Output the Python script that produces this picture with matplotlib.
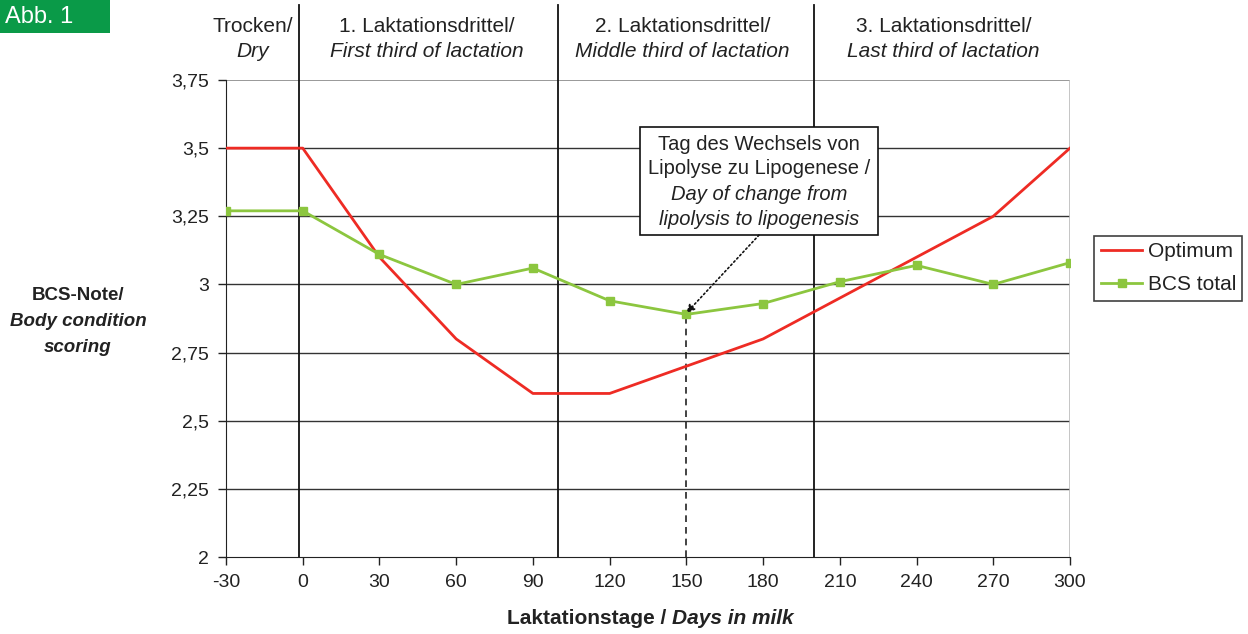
import matplotlib
matplotlib.use("Agg")
import matplotlib.pyplot as plt
import matplotlib.patches as mpatches

plt.rcParams['font.family'] = ['Liberation Sans', 'DejaVu Sans']

# data
days = [-30, 0, 30, 60, 90, 120, 150, 180, 210, 240, 270, 300]
optimum = [3.5, 3.5, 3.1, 2.8, 2.6, 2.6, 2.7, 2.8, 2.95, 3.1, 3.25, 3.5]
bcs_total = [3.27, 3.27, 3.11, 3.0, 3.06, 2.94, 2.89, 2.93, 3.01, 3.07, 3.0, 3.08]
y_ticks = [2, 2.25, 2.5, 2.75, 3, 3.25, 3.5, 3.75]
y_labels = ['2', '2,25', '2,5', '2,75', '3', '3,25', '3,5', '3,75']
phase_bounds = [-1.5, 100, 200]
phase_de = ['Trocken/', '1. Laktationsdrittel/', '2. Laktationsdrittel/', '3. Laktationsdrittel/']
phase_en = ['Dry', 'First third of lactation', 'Middle third of lactation', 'Last third of lactation']
phase_centers = [-19.5, 48.5, 148.5, 250.5]
change_day = 150
change_bcs = 2.89
note_de = ['Tag des Wechsels von', 'Lipolyse zu Lipogenese /']
note_en = ['Day of change from', 'lipolysis to lipogenesis']

red = '#ee2b24'
green = '#8cc63f'
ink = '#222222'

fig = plt.figure(figsize=(12.48, 6.34), dpi=100)
ax = fig.add_axes([226 / 1248, 1 - 557 / 634, (1070 - 226) / 1248, 477 / 634])

ax.set_xlim(-30, 300)
ax.set_ylim(2, 3.75)
ax.set_xticks(days)
ax.set_xticklabels([str(d) for d in days], fontsize=14)
ax.set_yticks(y_ticks)
ax.set_yticklabels(y_labels, fontsize=14)
ax.tick_params(axis='both', direction='out', length=6, width=1, color=ink, pad=6, labelcolor=ink)
for y in y_ticks[1:-1]:
    ax.axhline(y, color='#333333', lw=1, zorder=1)
ax.axhline(3.75, color='#888888', lw=1.2, zorder=1)
for s in ['top', 'right']:
    ax.spines[s].set_visible(False)
ax.spines['left'].set_color(ink)
ax.spines['bottom'].set_color(ink)
ax.axvline(300, color='#bbbbbb', lw=1.2, zorder=1)

# phase borders reaching up into the header
for xb in phase_bounds:
    ax.plot([xb, xb], [0, 1.157], color='#111111', lw=1.3,
            transform=ax.get_xaxis_transform(), clip_on=False, zorder=2)
for xc, de, en in zip(phase_centers, phase_de, phase_en):
    ax.text(xc, 1.113, de, transform=ax.get_xaxis_transform(), ha='center', va='center',
            fontsize=15, color=ink)
    ax.text(xc, 1.059, en, transform=ax.get_xaxis_transform(), ha='center', va='center',
            fontsize=15, style='italic', color=ink)

ax.plot(days, optimum, color=red, lw=2, label='Optimum', zorder=3)
ax.plot(days, bcs_total, color=green, lw=2, marker='s', markersize=6, label='BCS total', zorder=4)

# day of change marker
ax.plot([change_day, change_day], [2, change_bcs], color=ink, lw=1.2,
        linestyle=(0, (4, 3)), zorder=2)
ax.add_patch(mpatches.Rectangle((131.8, 3.181), 93.1, 0.397, facecolor='white',
                                edgecolor='#111111', lw=1.2, zorder=4))
for yy, line in zip([3.515, 3.424], note_de):
    ax.text(178.4, yy, line, ha='center', va='center', fontsize=14.5, color=ink, zorder=6)
for yy, line in zip([3.329, 3.238], note_en):
    ax.text(178.4, yy, line, ha='center', va='center', fontsize=14.5, style='italic',
            color=ink, zorder=6)
ax.annotate('', xy=(change_day, change_bcs + 0.005), xytext=(178.4, 3.181),
            arrowprops=dict(arrowstyle='-|>', linestyle=':', color='#111111', lw=1.2,
                            shrinkA=0, shrinkB=0, mutation_scale=12), zorder=5)

leg = ax.legend(loc='center left', bbox_to_anchor=(1.029, 0.605), fontsize=15, frameon=True,
                fancybox=False, edgecolor='#111111', handlelength=2.0, borderpad=0.3,
                labelspacing=0.68, handletextpad=0.25, borderaxespad=0)
leg.get_frame().set_linewidth(1.2)
for t in leg.get_texts():
    t.set_color(ink)

# y label
fig.text(78 / 1248, 1 - 295 / 634, 'BCS-Note/', ha='center', va='center', fontsize=13.5,
         fontweight='bold', color=ink)
fig.text(78 / 1248, 1 - 322 / 634, 'Body condition', ha='center', va='center', fontsize=13.5,
         fontweight='bold', style='italic', color=ink)
fig.text(78 / 1248, 1 - 347 / 634, 'scoring', ha='center', va='center', fontsize=13.5,
         fontweight='bold', style='italic', color=ink)

# x label, two styles centred together
renderer = fig.canvas.get_renderer()
t1 = fig.text(0, 1 - 618 / 634, 'Laktationstage / ', ha='left', va='center', fontsize=15,
              fontweight='bold', color=ink)
t2 = fig.text(0, 1 - 618 / 634, 'Days in milk', ha='left', va='center', fontsize=15,
              fontweight='bold', style='italic', color=ink)
w1 = t1.get_window_extent(renderer).width / 1248
w2 = t2.get_window_extent(renderer).width / 1248
x0 = 650 / 1248 - (w1 + w2) / 2
t1.set_x(x0)
t2.set_x(x0 + w1)

# figure tag
fig.patches.append(mpatches.Rectangle((0, 1 - 33 / 634), 110 / 1248, 33 / 634,
                                      transform=fig.transFigure, facecolor='#0a9a48',
                                      edgecolor='none'))
fig.text(5 / 1248, 1 - 17 / 634, 'Abb. 1', ha='left', va='center', fontsize=17, color='white')

fig.savefig('out.png', dpi=100)
